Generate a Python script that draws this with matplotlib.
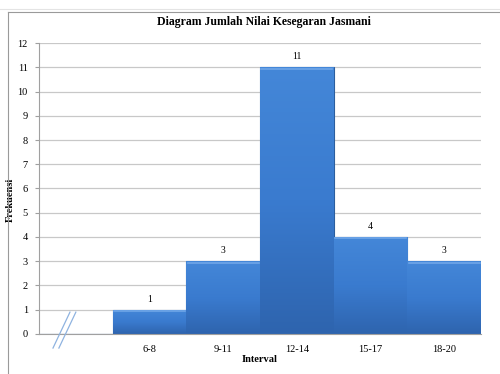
import matplotlib
matplotlib.use("Agg")
from matplotlib import pyplot as plt
from matplotlib.lines import Line2D
import numpy as np

# data
intervals = ['', '6-8', '9-11', '12-14', '15-17', '18-20']
frekuensi = [0, 1, 3, 11, 4, 3]
yticks = list(range(0, 13))

plt.rcParams['font.family'] = ['Liberation Serif', 'DejaVu Serif']

fig = plt.figure(figsize=(5, 3.74), dpi=100)
ax = fig.add_axes([0.078, 0.107, 0.884, 0.778])

x = np.arange(len(intervals))
bars = ax.bar(x, frekuensi, width=1.0, color='#3A7BD0', edgecolor='#2C5E9E',
              linewidth=0.8, zorder=2)

# verloop in de balken
grad = np.linspace(0, 1, 256).reshape(-1, 1)
cmap = matplotlib.colors.LinearSegmentedColormap.from_list(
    'balk', ['#2E64AE', '#3A7BCF', '#4487D8'])
for b in bars:
    if b.get_height() == 0:
        continue
    x0, w, h = b.get_x(), b.get_width(), b.get_height()
    im = ax.imshow(grad, extent=[x0, x0 + w, 0, h], origin='lower',
                   cmap=cmap, aspect='auto', zorder=2.5)
    im.set_clip_path(b)
    # lichte rand bovenaan
    ax.plot([x0 + 0.02, x0 + w - 0.02], [h - 0.06, h - 0.06],
            color='#6FA6E8', lw=1.2, zorder=3)

for xi, v in zip(x, frekuensi):
    if intervals[xi]:
        ax.text(xi, v + 0.25, str(v), ha='center', va='bottom', fontsize=7)

ax.set_xlim(-0.5, len(intervals) - 0.5)
ax.set_ylim(0, 12)
ax.set_yticks(yticks)
ax.set_yticklabels([str(t) for t in yticks], fontsize=7.5)
ax.set_xticks(x)
ax.set_xticklabels(intervals, fontsize=7.5)
ax.tick_params(axis='y', length=3, color='#a0a0a0', pad=5)
ax.tick_params(axis='x', length=0, pad=8)
ax.grid(axis='y', color='#c8c8c8', linewidth=0.9, zorder=0)
ax.set_axisbelow(True)
for s in ['top', 'right']:
    ax.spines[s].set_visible(False)
ax.spines['left'].set_color('#a0a0a0')
ax.spines['bottom'].set_color('#a0a0a0')

# breuktekens op de x-as
for dx in (0.0, 0.08):
    ax.plot([-0.31 + dx, -0.08 + dx], [-0.58, 0.9], color='#8FB3E0',
            lw=0.9, clip_on=False, zorder=4)

ax.set_xlabel('Interval', fontsize=7.5, fontweight='bold', labelpad=1)
ax.set_ylabel('Frekuensi', fontsize=7.5, fontweight='bold')
ax.yaxis.set_label_coords(-0.054, 0.46)
fig.text(0.528, 0.94, 'Diagram Jumlah Nilai Kesegaran Jasmani',
         ha='center', va='center', fontsize=8.5, fontweight='bold')

# rand van de grafiek (Excel)
fig.add_artist(Line2D([0.016, 0.016], [0.0, 0.968], color='#9a9a9a', lw=0.8))
fig.add_artist(Line2D([0.016, 1.0], [0.968, 0.968], color='#9a9a9a', lw=0.8))
fig.add_artist(Line2D([0.0, 1.0], [0.975, 0.975], color='#e4e4e4', lw=0.8))

fig.savefig('out.png', dpi=100)
plt.close()
